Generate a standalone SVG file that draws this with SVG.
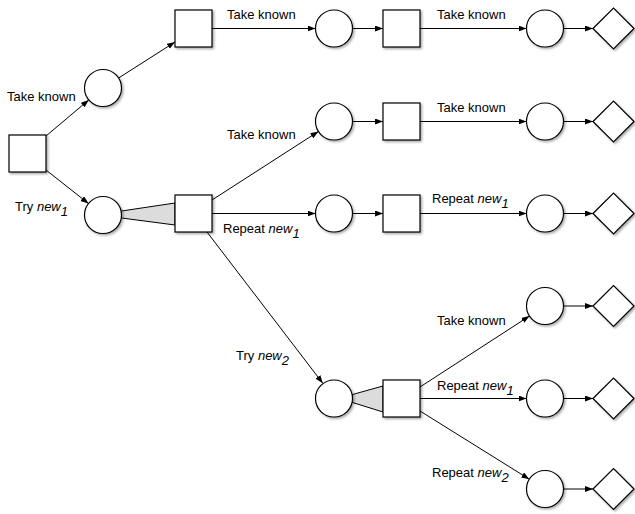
<svg xmlns="http://www.w3.org/2000/svg" width="635" height="514" viewBox="0 0 635 514">
<style>
.n{fill:#fff;stroke:#000;stroke-width:1.2}
.e{fill:none;stroke:#000;stroke-width:1}
.w{fill:#dcdcdc;stroke:#000;stroke-width:1}
text{font-family:"Liberation Sans",Arial,sans-serif;font-size:13px;fill:#000}
.i{font-style:italic}
</style>
<defs>
<marker id="a" markerUnits="userSpaceOnUse" markerWidth="9" markerHeight="7" refX="8" refY="3" orient="auto"><path d="M0,0 L8,3 L0,6 z" fill="#000"/></marker>
<filter id="s" x="-20%" y="-20%" width="150%" height="150%"><feDropShadow dx="1.5" dy="1.5" stdDeviation="1" flood-color="#000" flood-opacity="0.35"/></filter>
</defs>
<g id="connectors">
<polygon class="w" points="121.5,211 175,203 175,225 121.5,218"/>
<polygon class="w" points="352.5,394.5 383,386 383,412 352.5,402.5"/>
<line class="e" x1="46" y1="136" x2="88.8" y2="99.9" marker-end="url(#a)"/>
<line class="e" x1="118.6" y1="78" x2="175" y2="42" marker-end="url(#a)"/>
<line class="e" x1="46" y1="170" x2="88.5" y2="203.5" marker-end="url(#a)"/>
<line class="e" x1="212" y1="28.5" x2="315.5" y2="28.5" marker-end="url(#a)"/>
<line class="e" x1="352.5" y1="28.5" x2="383" y2="28.5" marker-end="url(#a)"/>
<line class="e" x1="420" y1="28.5" x2="526.5" y2="28.5" marker-end="url(#a)"/>
<line class="e" x1="563.5" y1="28.5" x2="593" y2="28.5" marker-end="url(#a)"/>
<line class="e" x1="212" y1="200" x2="318.4" y2="131.5" marker-end="url(#a)"/>
<line class="e" x1="352.5" y1="121.5" x2="383" y2="121.5" marker-end="url(#a)"/>
<line class="e" x1="420" y1="121.5" x2="526.5" y2="121.5" marker-end="url(#a)"/>
<line class="e" x1="563.5" y1="121.5" x2="593" y2="121.5" marker-end="url(#a)"/>
<line class="e" x1="212" y1="213.5" x2="315.5" y2="213.5" marker-end="url(#a)"/>
<line class="e" x1="352.5" y1="213.5" x2="383" y2="213.5" marker-end="url(#a)"/>
<line class="e" x1="420" y1="213.5" x2="526.5" y2="213.5" marker-end="url(#a)"/>
<line class="e" x1="563.5" y1="213.5" x2="593" y2="213.5" marker-end="url(#a)"/>
<line class="e" x1="207" y1="232" x2="322.8" y2="383.3" marker-end="url(#a)"/>
<line class="e" x1="420" y1="387" x2="529.5" y2="316" marker-end="url(#a)"/>
<line class="e" x1="420" y1="398.5" x2="526.5" y2="398.5" marker-end="url(#a)"/>
<line class="e" x1="420" y1="411" x2="529.3" y2="479.2" marker-end="url(#a)"/>
<line class="e" x1="563.5" y1="306" x2="593" y2="306" marker-end="url(#a)"/>
<line class="e" x1="563.5" y1="398.5" x2="593" y2="398.5" marker-end="url(#a)"/>
<line class="e" x1="563.5" y1="489" x2="593" y2="489" marker-end="url(#a)"/>
</g>
<g id="labels">
<text x="7" y="101">Take known</text>
<text x="15" y="211">Try <tspan class="i">new</tspan><tspan class="i" dy="5">1</tspan></text>
<text x="227" y="19">Take known</text>
<text x="437" y="19">Take known</text>
<text x="227" y="139">Take known</text>
<text x="437" y="112">Take known</text>
<text x="223" y="233">Repeat <tspan class="i">new</tspan><tspan class="i" dy="5">1</tspan></text>
<text x="432" y="203">Repeat <tspan class="i">new</tspan><tspan class="i" dy="5">1</tspan></text>
<text x="236" y="360">Try <tspan class="i">new</tspan><tspan class="i" dy="5">2</tspan></text>
<text x="437" y="325">Take known</text>
<text x="437" y="390">Repeat <tspan class="i">new</tspan><tspan class="i" dy="5">1</tspan></text>
<text x="432" y="477">Repeat <tspan class="i">new</tspan><tspan class="i" dy="5">2</tspan></text>
</g>
<g id="root"><rect class="n" filter="url(#s)" x="9" y="135" width="37" height="37"/></g>
<g id="c1"><circle class="n" filter="url(#s)" cx="103" cy="88" r="18.5"/></g>
<g id="c2"><circle class="n" filter="url(#s)" cx="103" cy="215" r="18.5"/></g>
<g id="s1"><rect class="n" filter="url(#s)" x="175" y="10" width="37" height="37"/></g>
<g id="s2"><rect class="n" filter="url(#s)" x="175" y="195" width="37" height="37"/></g>
<g id="c3"><circle class="n" filter="url(#s)" cx="334" cy="28.5" r="18.5"/></g>
<g id="s3"><rect class="n" filter="url(#s)" x="383" y="10" width="37" height="37"/></g>
<g id="c4"><circle class="n" filter="url(#s)" cx="545" cy="28.5" r="18.5"/></g>
<g id="d1"><polygon class="n" filter="url(#s)" points="593,28.5 613.5,8 634,28.5 613.5,49"/></g>
<g id="c5"><circle class="n" filter="url(#s)" cx="334" cy="121.5" r="18.5"/></g>
<g id="s4"><rect class="n" filter="url(#s)" x="383" y="103" width="37" height="37"/></g>
<g id="c6"><circle class="n" filter="url(#s)" cx="545" cy="121.5" r="18.5"/></g>
<g id="d2"><polygon class="n" filter="url(#s)" points="593,121.5 613.5,101 634,121.5 613.5,142"/></g>
<g id="c7"><circle class="n" filter="url(#s)" cx="334" cy="213.5" r="18.5"/></g>
<g id="s5"><rect class="n" filter="url(#s)" x="383" y="195" width="37" height="37"/></g>
<g id="c8"><circle class="n" filter="url(#s)" cx="545" cy="213.5" r="18.5"/></g>
<g id="d3"><polygon class="n" filter="url(#s)" points="593,213.5 613.5,193 634,213.5 613.5,234"/></g>
<g id="c9"><circle class="n" filter="url(#s)" cx="334" cy="398.5" r="18.5"/></g>
<g id="s6"><rect class="n" filter="url(#s)" x="383" y="380" width="37" height="37"/></g>
<g id="c10"><circle class="n" filter="url(#s)" cx="545" cy="306" r="18.5"/></g>
<g id="d4"><polygon class="n" filter="url(#s)" points="593,306 613.5,285.5 634,306 613.5,326.5"/></g>
<g id="c11"><circle class="n" filter="url(#s)" cx="545" cy="398.5" r="18.5"/></g>
<g id="d5"><polygon class="n" filter="url(#s)" points="593,398.5 613.5,378 634,398.5 613.5,419"/></g>
<g id="c12"><circle class="n" filter="url(#s)" cx="545" cy="489" r="18.5"/></g>
<g id="d6"><polygon class="n" filter="url(#s)" points="593,489 613.5,468.5 634,489 613.5,509.5"/></g>
</svg>
